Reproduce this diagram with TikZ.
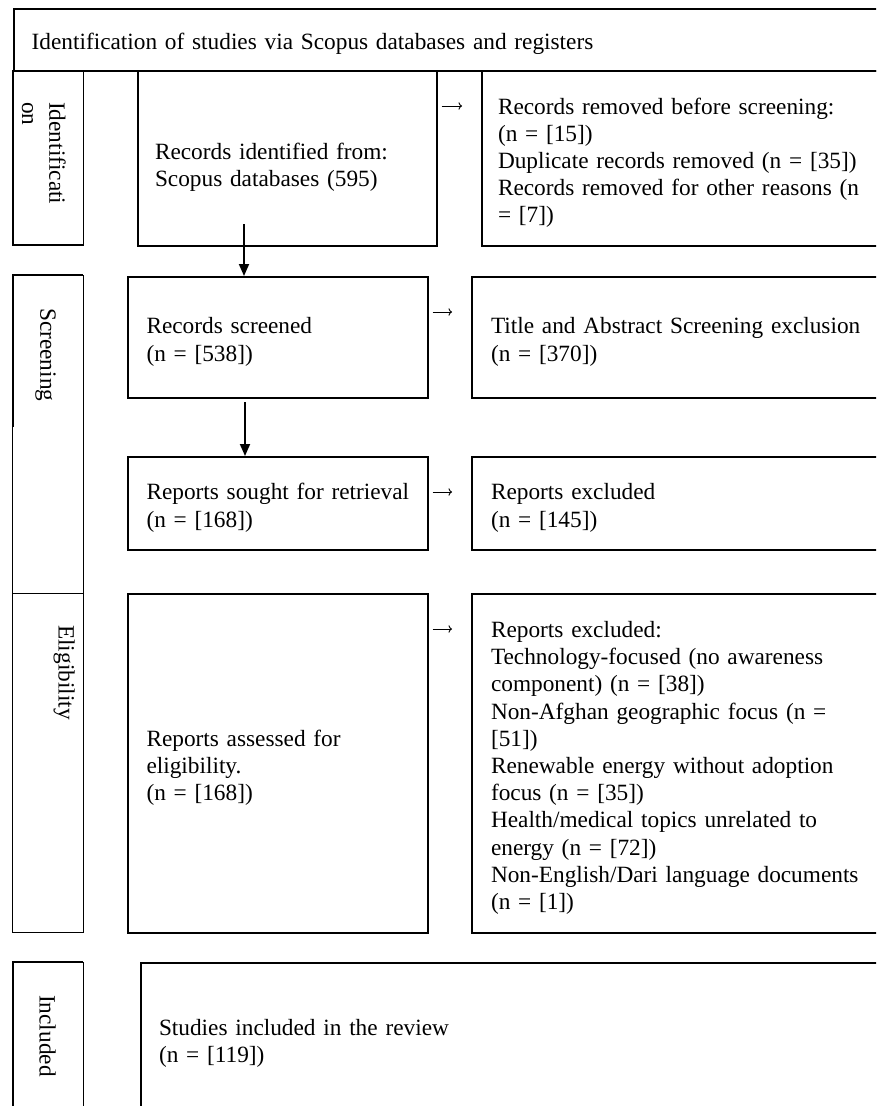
\documentclass[tikz,border=0pt]{standalone}
\usepackage{fontspec}
\setmainfont{Liberation Serif}
\usetikzlibrary{arrows.meta}

\newcommand{\bodyfont}{\fontsize{23.3}{27.2}\selectfont\hyphenpenalty=10000\exhyphenpenalty=10000}

\tikzset{
  stagebox/.style={draw,line width=2pt,rectangle,anchor=north west,align=left,
    inner ysep=0pt,font=\bodyfont,execute at begin node={\rule{0pt}{25pt}}},
  sidecell/.style={draw,line width=1pt},
  sideedge/.style={draw,line width=2pt},
  sidelabel/.style={rotate=-90,anchor=north west,align=left,inner sep=0pt,font=\bodyfont},
  flowarrow/.style={-{Triangle[length=12pt,width=10pt]},line width=1.8pt},
  sidearrow/.style={-{To[length=3.5pt,width=7.5pt]},line width=0.9pt,
    shorten <=3.5pt,shorten >=19pt}
}

\begin{document}
\begin{tikzpicture}[x=1pt,y=-1pt]

\useasboundingbox (0,0) rectangle (876,1106);
\clip (0,0) rectangle (876,1106);

\path (12.7,7.5) node[stagebox,inner xsep=18pt,text width=900pt,minimum height=62.5pt](head)
  {Identification of studies via Scopus databases and registers};

\draw[sidecell] (12.7,70) rectangle (83,245);
\draw[sidecell] (12.7,275) rectangle (83,593);
\draw[sidecell] (12.7,593) rectangle (83,932);
\draw[sidecell] (12.7,962) rectangle (83,1140);
\draw[sideedge] (12.7,70) -- (12.7,245) -- (83,245);
\draw[sideedge] (12.7,427) -- (12.7,275) -- (83,275);
\draw[sideedge] (12.7,1140) -- (12.7,962) -- (83,962);

\path (66,102) node[sidelabel](lident){Identificati\\on};
\path (56,308) node[sidelabel](lscreen){Screening};
\path (75,625) node[sidelabel](lelig){Eligibility};
\path (56,995) node[sidelabel](lincl){Included};

\path (137,70) node[stagebox,inner xsep=17pt,text width=265pt,minimum height=175pt,
  execute at begin node={\rule{0pt}{34pt}}](recid)
  {Records identified from:\\Scopus databases (595)};
\path (481,70) node[stagebox,inner xsep=16pt,text width=372pt,minimum height=175pt](removed)
  {Records removed before screening:\\(n = {[15]})\\Duplicate records removed (n = {[35]})\\
   \makebox[372pt][s]{Records removed for other reasons (n}\\= {[7]})};

\path (127,276) node[stagebox,inner xsep=18.5pt,text width=263pt,minimum height=121pt](screened)
  {Records screened\\(n = {[538]})};
\path (471,276) node[stagebox,inner xsep=19pt,text width=372pt,minimum height=121pt](taexcl)
  {Title and Abstract Screening exclusion\\(n = {[370]})};

\path (127,456) node[stagebox,inner xsep=18.5pt,text width=263pt,minimum height=93pt](sought)
  {Reports sought for retrieval\\(n = {[168]})};
\path (471,456) node[stagebox,inner xsep=19pt,text width=372pt,minimum height=93pt](notret)
  {Reports excluded\\(n = {[145]})};

\path (127,593) node[stagebox,inner xsep=18.5pt,text width=263pt,minimum height=339pt](assessed)
  {Reports assessed for\\eligibility.\\(n = {[168]})};
\path (471,593) node[stagebox,inner xsep=19pt,text width=372pt,minimum height=339pt](fullexcl)
  {Reports excluded:\\Technology-focused (no awareness\\component) (n = {[38]})\\
   Non-Afghan geographic focus (n =\\{[51]})\\Renewable energy without adoption\\
   focus (n = {[35]})\\Health/medical topics unrelated to\\energy (n = {[72]})\\
   Non-English/Dari language documents\\(n = {[1]})};

\path (140,962) node[stagebox,inner xsep=18pt,text width=740pt,minimum height=152pt](studies)
  {Studies included in the review\\(n = {[119]})};

\draw[flowarrow] ([xshift=107pt,yshift=23pt]recid.south west) -- ([xshift=117pt]screened.north west);
\draw[flowarrow] ([xshift=118pt,yshift=-3pt]screened.south west) -- ([xshift=118pt]sought.north west);

\draw[sidearrow] ([yshift=-36pt]recid.north east) -- ([yshift=-36pt]removed.north west);
\draw[sidearrow] ([yshift=-36pt]screened.north east) -- ([yshift=-36pt]taexcl.north west);
\draw[sidearrow] ([yshift=-36pt]sought.north east) -- ([yshift=-36pt]notret.north west);
\draw[sidearrow] ([yshift=-36pt]assessed.north east) -- ([yshift=-36pt]fullexcl.north west);

\end{tikzpicture}
\end{document}
